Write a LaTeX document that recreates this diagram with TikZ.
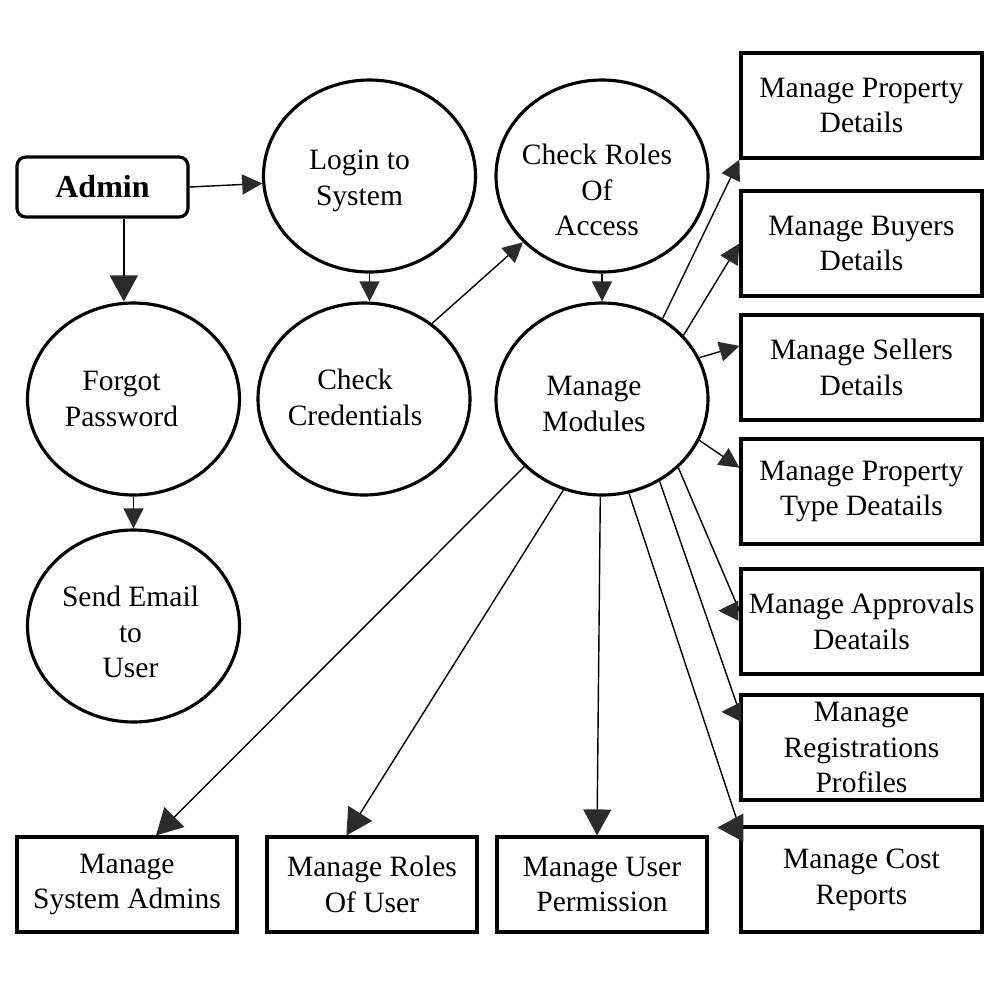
\documentclass[tikz,border=0pt]{standalone}
\usepackage{fontspec}
\setmainfont{Liberation Serif}
\usepackage{tikz}
\definecolor{HeadGray}{HTML}{2B2B2B}
\usetikzlibrary{shapes.geometric,arrows.meta,positioning,calc}

\begin{document}
\begin{tikzpicture}[x=0.1mm, y=-0.1mm,
        every node/.style={font=\fontsize{8.4}{10.2}\selectfont, align=center},
        proc/.style={ellipse, draw, line width=0.9pt, minimum width=21.2mm, minimum height=19.2mm, inner sep=0pt},
        proctext/.style n args={3}{label={[shift={(#1,#2)}]center:#3}},
        task/.style={rectangle, draw, line width=0.9pt, minimum width=24.1mm, minimum height=10.5mm, inner sep=1pt},
        flow/.style={-{Triangle[length=2mm,width=2mm,color=HeadGray]}, line width=0.4pt},
        bigflow/.style={-{Triangle[length=2.6mm,width=2.8mm,color=HeadGray]}, line width=0.4pt}]
\useasboundingbox (0,0) rectangle (1000,1000);

%the actor
\node[draw, rounded corners=2.5pt, line width=0.9pt, minimum width=17.1mm, minimum height=6mm,
      font=\fontsize{9.1}{10}\selectfont\bfseries] (admin) at (102.5,187) {Admin};

%the processes
\node[proc, proctext={-10}{5}{Login to\\System}] (login) at (369.5,176) {};
\node[proc, proctext={-5}{14}{Check Roles\\Of\\Access}] (roles) at (602,176) {};
\node[proc, proctext={-12}{0}{Forgot\\Password}] (forgot) at (133.5,399) {};
\node[proc, proctext={-9}{-2}{Check\\Credentials}] (cred) at (364,399) {};
\node[proc, proctext={-8}{5}{Manage\\Modules}] (mm) at (602,399) {};
\node[proc, proctext={-3}{6}{Send Email\\to\\User}] (email) at (133.5,626) {};

%right column of modules
\foreach \n/\y/\t in {pd/105.5/{Manage Property\\Details}, bd/243.5/{Manage Buyers\\Details},
        sd/367.5/{Manage Sellers\\Details}, pt/491.5/{Manage Property\\Type Deatails},
        ap/621.5/{Manage Approvals\\Deatails}, rp/747.5/{Manage\\Registrations\\Profiles},
        cr/879.5/{Manage Cost\\Reports}}{
    \node[task] (\n) at (861.5,\y) {\t};
}

%bottom row of modules
\node[task, minimum width=22mm, minimum height=9.5mm] (sa) at (127,884.5) {Manage\\System Admins};
\node[task, minimum width=21mm, minimum height=9.5mm] (ru) at (372,884.5) {Manage Roles\\Of User};
\node[task, minimum width=21mm, minimum height=9.5mm] (up) at (602,884.5) {Manage User\\Permission};

%login flow
\draw[flow] (admin.east) -- (login.184);
\draw[bigflow] (admin.-56) -- (admin.-56 |- forgot.north);
\draw[flow] (forgot) -- (email);
\draw[flow] (login.south) -- (login.south |- cred.north);
\draw[flow] (cred.48) -- (roles.220);
\draw[flow] (roles) -- (mm);

%modules to the right
\draw[flow] (mm.53) -- (pd.south west);
\draw[flow] (mm.38) -- (bd.west);
\draw[flow] (mm.23) -- ($(sd.north west)!0.3!(sd.south west)$);
\draw[flow] (mm.-23) -- ($(pt.north west)!0.28!(pt.south west)$);
\draw[flow] (mm.-42) -- ($(ap.north west)!0.4!(ap.south west)$) -- ++(-21,0);
\draw[flow] (mm.-55) -- ($(rp.north west)!0.17!(rp.south west)$) -- ++(-18,0);
\draw[bigflow] (mm.-74) -- ($(cr.north west)!0.02!(cr.south west)$) -- ++(-22,0);

%modules to the bottom
\draw[bigflow] (mm.221) -- ($(sa.north west)!0.63!(sa.north east)$);
\draw[bigflow] (mm.247) -- ($(ru.north west)!0.38!(ru.north east)$);
\draw[bigflow] (mm.269) -- ($(up.north)+(-5,0)$);
\end{tikzpicture}
\end{document}
